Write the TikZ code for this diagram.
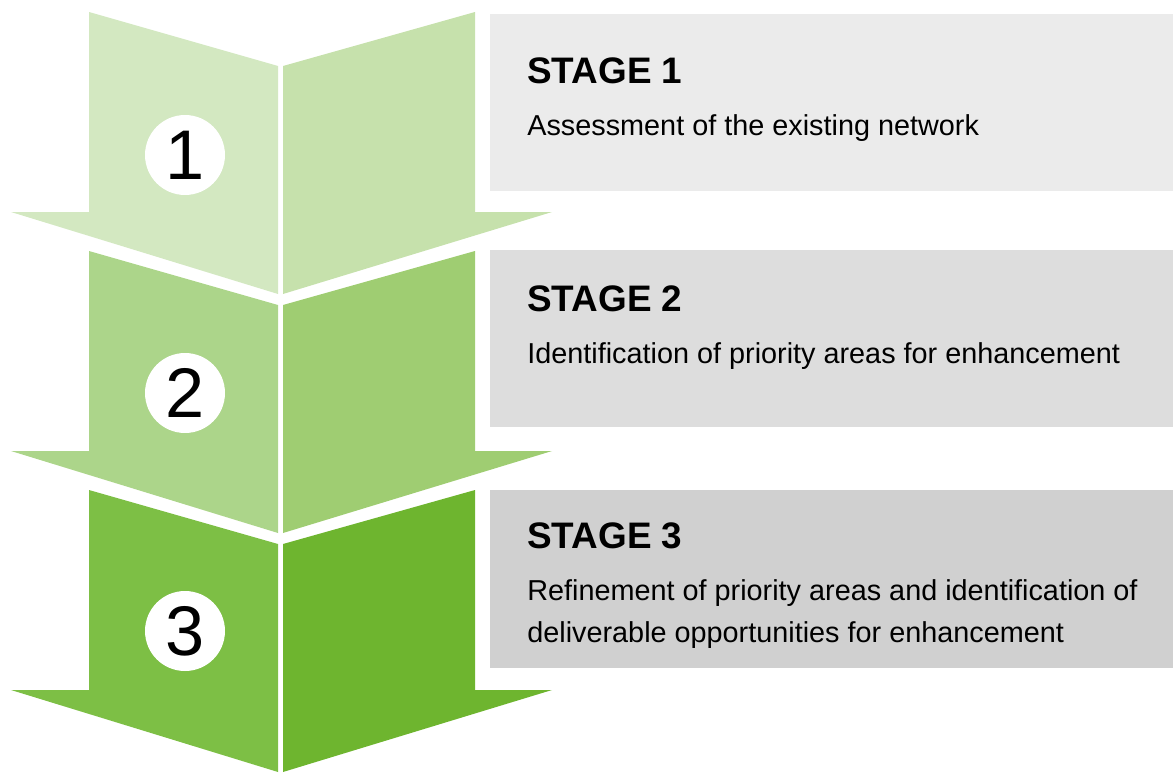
\documentclass[tikz,border=0pt]{standalone}
\usepackage{fontspec}
\setmainfont{Liberation Sans}
\usetikzlibrary{positioning}
\definecolor{arrowOneL}{HTML}{D3E8C1}
\definecolor{arrowOneR}{HTML}{C6E1AC}
\definecolor{arrowTwoL}{HTML}{ACD58A}
\definecolor{arrowTwoR}{HTML}{9FCD72}
\definecolor{arrowThreeL}{HTML}{7DBF45}
\definecolor{arrowThreeR}{HTML}{6EB52F}
\definecolor{boxOne}{HTML}{EBEBEB}
\definecolor{boxTwo}{HTML}{DDDDDD}
\definecolor{boxThree}{HTML}{D0D0D0}
\tikzstyle{stagebox} = [rectangle,
minimum width=13.66cm,
minimum height=3.56cm,
inner sep=0pt,
draw=none]
\tikzstyle{numcircle} = [circle,
minimum size=1.6cm,
inner sep=0pt,
fill=white,
font=\fontsize{40}{40}\selectfont]
\tikzstyle{heading} = [anchor=base west, inner sep=0pt,
font=\bfseries\fontsize{21}{25}\selectfont]
\tikzstyle{desc} = [anchor=base west, inner sep=0pt, align=left,
font=\fontsize{16.4}{23.5}\selectfont]

\begin{document}
\begin{tikzpicture}[x=0.02cm, y=-0.02cm]
			\useasboundingbox (0,0) rectangle (1173,774);
			% the three arrows, each in two halves
			\fill[arrowOneL] (89,12) -- (278,66) -- (278,294) -- (11,212) -- (89,212) -- cycle;
			\fill[arrowOneR] (283,66) -- (475,12) -- (475,212) -- (552,212) -- (283,294) -- cycle;
			\fill[arrowTwoL] (89,251) -- (278,305) -- (278,533) -- (11,451) -- (89,451) -- cycle;
			\fill[arrowTwoR] (283,305) -- (475,251) -- (475,451) -- (552,451) -- (283,533) -- cycle;
			\fill[arrowThreeL] (89,490) -- (278,544) -- (278,772) -- (11,690) -- (89,690) -- cycle;
			\fill[arrowThreeR] (283,544) -- (475,490) -- (475,690) -- (552,690) -- (283,772) -- cycle;

			\node (num1) [numcircle] at (185,155) {1};
			\node (num2) [numcircle] at (185,393) {2};
			\node (num3) [numcircle] at (185,631) {3};

			\node (box1) [stagebox, fill=boxOne] at (831.5,102.5) {};
			\node (box2) [stagebox, fill=boxTwo] at (831.5,338.5) {};
			\node (box3) [stagebox, fill=boxThree] at (831.5,579) {};

			\node (head1) [heading] at (527,83) {STAGE 1};
			\node (desc1) [desc] at (527,135) {Assessment of the existing network};
			\node (head2) [heading] at (527,311) {STAGE 2};
			\node (desc2) [desc] at (527,363) {Identification of priority areas for enhancement};
			\node (head3) [heading] at (527,548) {STAGE 3};
			\node (desc3) [desc] at (527,642) {Refinement of priority areas and identification of\\deliverable opportunities for enhancement};
		\end{tikzpicture}
\end{document}
